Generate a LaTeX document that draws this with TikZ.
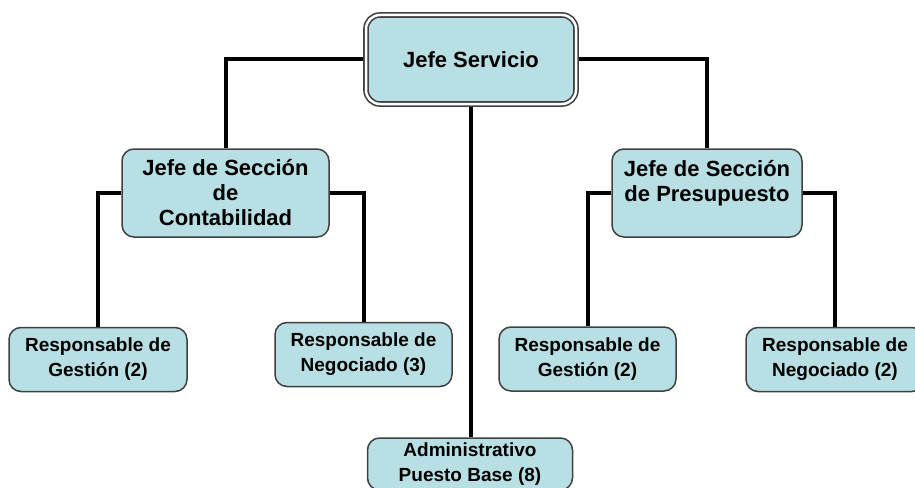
\documentclass[tikz,border=0pt]{standalone}
\usepackage{fontspec}
\setmainfont{Liberation Sans}
\usetikzlibrary{backgrounds}
\definecolor{boxfill}{RGB}{184,223,227}
\definecolor{boxline}{RGB}{64,64,64}
\tikzset{
	cargo/.style={draw=boxline, fill=boxfill, line width=1.5pt, rounded corners=12pt, inner sep=0pt, align=center, font=\bfseries\fontsize{19}{25}\selectfont},
	jefatura/.style={cargo, font=\bfseries\fontsize{22}{25}\selectfont},
	enlace/.style={line width=4pt}
}

\begin{document}
\begin{tikzpicture}[x=1pt, y=-1pt]
	  \useasboundingbox (0,0) rectangle (915,487);
	  \clip (0,0) rectangle (915,487);
	  \node [jefatura, double=white, double distance=2.5pt, line width=1.6pt, rounded corners=14pt, minimum width=210pt, minimum height=89pt] (jefe) at (471,59.5) {Jefe Servicio};
	  \node [jefatura, minimum width=207pt, minimum height=88pt] (contab) at (225.5,193) {Jefe de Sección\\de\\Contabilidad};
	  \node [jefatura, minimum width=190pt, minimum height=88pt] (presup) at (707,193) {Jefe de Sección\\de Presupuesto\\\mbox{}};
	  \node [cargo, minimum width=178pt, minimum height=64pt] (gestA) at (98,359.5) {Responsable de\\Gestión (2)};
	  \node [cargo, minimum width=177pt, minimum height=64pt] (negA) at (363.5,354.5) {Responsable de\\Negociado (3)};
	  \node [cargo, minimum width=177pt, minimum height=64pt] (gestB) at (587.5,359) {Responsable de\\Gestión (2)};
	  \node [cargo, minimum width=178pt, minimum height=64pt] (negB) at (835,359.5) {Responsable de\\Negociado (2)};
	  \node [cargo, minimum width=205pt, minimum height=52pt] (admin) at (470,464) {Administrativo\\Puesto Base (8)};
	  \begin{scope}[on background layer]
	  \draw [enlace] (jefe.west) -| (contab.north);
	  \draw [enlace] (jefe.east) -| (presup.north);
	  \draw [enlace] (jefe.south) -- (jefe.south |- admin.north);
	  \draw [enlace] (contab.west) -| (gestA.north);
	  \draw [enlace] (contab.east) -| (negA.north);
	  \draw [enlace] (presup.west) -| (gestB.north);
	  \draw [enlace] (presup.east) -| (negB.north);
	  \end{scope}
\end{tikzpicture}
\end{document}
